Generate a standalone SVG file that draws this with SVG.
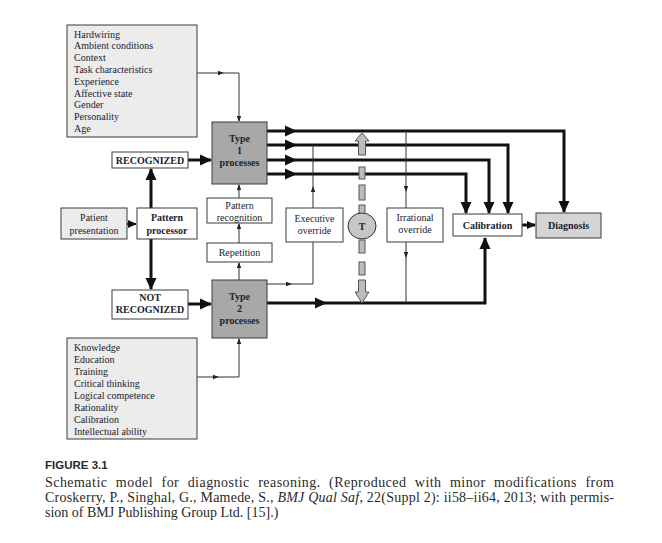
<svg xmlns="http://www.w3.org/2000/svg" width="662" height="543" viewBox="0 0 662 543">
<defs>
<marker id="big" markerUnits="userSpaceOnUse" markerWidth="13" markerHeight="12" refX="11" refY="6" orient="auto"><path d="M0,0.5 L12,6 L0,11.5 z" fill="#111"/></marker>
<marker id="med" markerUnits="userSpaceOnUse" markerWidth="10" markerHeight="10" refX="8" refY="5" orient="auto"><path d="M0,1 L9,5 L0,9 z" fill="#111"/></marker>
<marker id="sm" markerUnits="userSpaceOnUse" markerWidth="7" markerHeight="6" refX="5" refY="3" orient="auto"><path d="M0,0.8 L6,3 L0,5.2 z" fill="#222"/></marker>
</defs>
<style>
.box{stroke:#3a3a3a;stroke-width:1}
.lt{fill:#ececec}
.wh{fill:#fff}
.dk{fill:#a8a8a8}
.dg{fill:#d4d4d4}
.t{font-family:"Liberation Serif",serif;fill:#22222e;font-size:10px}
.b{font-weight:bold}
.c{text-anchor:middle}
.thick{fill:none;stroke:#111;stroke-width:3}
.mid{fill:none;stroke:#111;stroke-width:2}
.thin{fill:none;stroke:#333;stroke-width:1}
.tb{fill:#bcbcbc;stroke:#555;stroke-width:1}
.cap{font-family:"Liberation Serif",serif;fill:#2a2a2a;font-size:14px}
</style>
<rect width="662" height="543" fill="#fff"/>

<g id="connectors">
<path class="thick" d="M267,131 H296" marker-end="url(#big)"/>
<path class="thick" d="M296,131 H564 V212" marker-end="url(#big)"/>
<path class="thick" d="M267,145 H296" marker-end="url(#big)"/>
<path class="thick" d="M296,145 H508 V213" marker-end="url(#big)"/>
<path class="thick" d="M267,160 H296" marker-end="url(#big)"/>
<path class="thick" d="M296,160 H489 V213" marker-end="url(#big)"/>
<path class="thick" d="M267,174 H296" marker-end="url(#big)"/>
<path class="thick" d="M296,174 H466 V213" marker-end="url(#big)"/>
<path class="thick" d="M267,303 H326" marker-end="url(#big)"/>
<path class="thick" d="M326,303 H485 V238" marker-end="url(#big)"/>
<path class="thick" d="M522,225 H535" marker-end="url(#med)"/>
<path class="thick" d="M188,160 H211" marker-end="url(#big)"/>
<path class="thick" d="M188,304 H211" marker-end="url(#big)"/>
<path class="thick" d="M151,208 V169" marker-end="url(#big)"/>
<path class="thick" d="M151,239 V289" marker-end="url(#big)"/>
<path class="mid" d="M127,224 H136" marker-end="url(#med)"/>
<path class="thin" d="M197,73 H223" marker-end="url(#sm)"/>
<path class="thin" d="M223,73 H239 V121" marker-end="url(#sm)"/>
<path class="thin" d="M197,377 H218" marker-end="url(#sm)"/>
<path class="thin" d="M218,377 H239 V339" marker-end="url(#sm)"/>
<path class="thin" d="M239,280 V263" marker-end="url(#sm)"/>
<path class="thin" d="M239,243 V224" marker-end="url(#sm)"/>
<path class="thin" d="M239,198 V185" marker-end="url(#sm)"/>
<path class="thin" d="M267,284 H291" marker-end="url(#sm)"/>
<path class="thin" d="M291,284 H313 V242"/>
<path class="thin" d="M313,208 V187" marker-end="url(#sm)"/>
<path class="thin" d="M313,187 V145"/>
<path class="thin" d="M406,131 V191" marker-end="url(#sm)"/>
<path class="thin" d="M406,191 V208"/>
<path class="thin" d="M406,242 V257" marker-end="url(#sm)"/>
<path class="thin" d="M406,257 V303"/>
</g>

<g id="factors1">
<rect class="box lt" x="67" y="25" width="130" height="112"/>
<text class="t" x="74" y="37.5">Hardwiring</text>
<text class="t" x="74" y="49.3">Ambient conditions</text>
<text class="t" x="74" y="61.1">Context</text>
<text class="t" x="74" y="72.9">Task characteristics</text>
<text class="t" x="74" y="84.7">Experience</text>
<text class="t" x="74" y="96.5">Affective state</text>
<text class="t" x="74" y="108.3">Gender</text>
<text class="t" x="74" y="120.1">Personality</text>
<text class="t" x="74" y="131.9">Age</text>
</g>

<g id="type1">
<rect class="box dk" x="212" y="122" width="55" height="62"/>
<text class="t b c" font-size="10.5" x="239.5" y="141.5">Type</text>
<text class="t b c" font-size="10.5" x="239.5" y="153.5">1</text>
<text class="t b c" font-size="10.5" x="239.5" y="165.5">processes</text>
</g>

<g id="recognized">
<rect class="box wh" x="112" y="152" width="76" height="16"/>
<text class="t b c" font-size="9.5" x="150" y="163.5">RECOGNIZED</text>
</g>

<g id="patient">
<rect class="box lt" x="61" y="208" width="66" height="31"/>
<text class="t c" x="94" y="221">Patient</text>
<text class="t c" x="94" y="234">presentation</text>
</g>

<g id="processor">
<rect class="box wh" x="137" y="208" width="60" height="31"/>
<text class="t b c" font-size="10.5" x="167" y="221">Pattern</text>
<text class="t b c" font-size="10.5" x="167" y="234">processor</text>
</g>

<g id="recognition">
<rect class="box wh" x="207" y="198" width="65" height="25"/>
<text class="t c" x="239.5" y="208.5">Pattern</text>
<text class="t c" x="239.5" y="221">recognition</text>
</g>

<g id="repetition">
<rect class="box wh" x="207" y="243" width="65" height="19"/>
<text class="t c" x="239.5" y="256">Repetition</text>
</g>

<g id="executive">
<rect class="box wh" x="286" y="208" width="57" height="34"/>
<text class="t c" x="314.5" y="221.5">Executive</text>
<text class="t c" x="314.5" y="233.5">override</text>
</g>

<g id="irrational">
<rect class="box wh" x="387" y="208" width="56" height="34"/>
<text class="t c" font-size="9.3" x="415" y="221">Irrational</text>
<text class="t c" font-size="9.3" x="415" y="233">override</text>
</g>

<g id="toggle">
<polygon class="tb" points="362,133 369,141 365.5,141 365.5,155 358.5,155 358.5,141 355,141"/>
<rect class="tb" x="359" y="167" width="6" height="12"/>
<rect class="tb" x="359" y="185" width="6" height="15"/>
<rect class="tb" x="359" y="205" width="6" height="9"/>
<rect class="tb" x="359" y="240" width="6" height="13"/>
<rect class="tb" x="359" y="262" width="6" height="13"/>
<polygon class="tb" points="358.5,280 365.5,280 365.5,292 369,292 362,303 355,292 358.5,292"/>
<ellipse cx="362" cy="226" rx="14" ry="13" fill="#c6c6c6" stroke="#333" stroke-width="1"/>
<text class="t b c" font-size="11" x="362" y="230">T</text>
</g>

<g id="calibration">
<rect class="box wh" x="453" y="214" width="69" height="22"/>
<text class="t b c" font-size="11" x="487.5" y="229">Calibration</text>
</g>

<g id="diagnosis">
<rect class="box dg" x="536" y="213" width="65" height="25"/>
<text class="t b c" font-size="11" x="568.5" y="229">Diagnosis</text>
</g>

<g id="notrecognized">
<rect class="box wh" x="112" y="290" width="76" height="29"/>
<text class="t b c" font-size="9.5" x="150" y="300.5">NOT</text>
<text class="t b c" font-size="9.5" x="150" y="312.5">RECOGNIZED</text>
</g>

<g id="type2">
<rect class="box dk" x="212" y="280" width="55" height="58"/>
<text class="t b c" font-size="10.5" x="239.5" y="299.5">Type</text>
<text class="t b c" font-size="10.5" x="239.5" y="311.5">2</text>
<text class="t b c" font-size="10.5" x="239.5" y="323.5">processes</text>
</g>

<g id="factors2">
<rect class="box lt" x="67" y="338" width="130" height="101"/>
<text class="t" x="74" y="350.5">Knowledge</text>
<text class="t" x="74" y="362.5">Education</text>
<text class="t" x="74" y="374.5">Training</text>
<text class="t" x="74" y="386.5">Critical thinking</text>
<text class="t" x="74" y="398.5">Logical competence</text>
<text class="t" x="74" y="410.5">Rationality</text>
<text class="t" x="74" y="422.5">Calibration</text>
<text class="t" x="74" y="434.5">Intellectual ability</text>
</g>

<g id="caption">
<text x="45" y="469" font-family="'Liberation Sans',sans-serif" font-weight="bold" font-size="11.5" fill="#2a2a2a">FIGURE 3.1</text>
<text class="cap" x="45" y="487" word-spacing="4.5" textLength="569" lengthAdjust="spacing">Schematic model for diagnostic reasoning. (Reproduced with minor modifications from</text>
<text class="cap" x="45" y="502" textLength="569" lengthAdjust="spacing">Croskerry, P., Singhal, G., Mamede, S., <tspan font-style="italic">BMJ Qual Saf</tspan>, 22(Suppl 2): ii58–ii64, 2013; with permis-</text>
<text class="cap" x="45" y="517">sion of BMJ Publishing Group Ltd. [15].)</text>
</g>
</svg>
